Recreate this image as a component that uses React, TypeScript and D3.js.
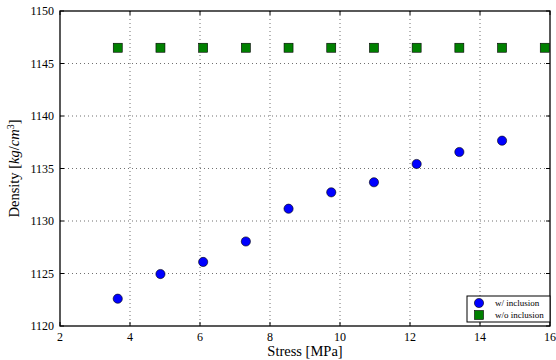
import React from "react";
import * as d3 from "d3";

const stressWith = [3.65, 4.87, 6.09, 7.31, 8.53, 9.75, 10.97, 12.19, 13.41, 14.63];
const densityWith = [1122.6, 1124.95, 1126.1, 1128.05, 1131.17, 1132.73, 1133.69, 1135.43, 1136.57, 1137.65];
const stressWithout = [3.65, 4.87, 6.09, 7.31, 8.53, 9.75, 10.97, 12.19, 13.41, 14.63, 15.85];
const densityWithout = [1146.5, 1146.5, 1146.5, 1146.5, 1146.5, 1146.5, 1146.5, 1146.5, 1146.5, 1146.5, 1146.5];
const xTicks = [2, 4, 6, 8, 10, 12, 14, 16];
const yTicks = [1120, 1125, 1130, 1135, 1140, 1145, 1150];
const legendLabels = ["w/ inclusion", "w/o inclusion"];

const W = 556;
const H = 360;
const m = { left: 60, right: 6, top: 11, bottom: 34 };
const FONT = "'Liberation Serif', 'DejaVu Serif', serif";

export default function App() {
  const x = d3.scaleLinear().domain([2, 16]).range([m.left, W - m.right]);
  const y = d3.scaleLinear().domain([1120, 1150]).range([H - m.bottom, m.top]);
  const x0 = m.left, x1 = W - m.right, y0 = H - m.bottom, y1 = m.top;
  const tick = 4;
  const sq = 9;
  const lx = 467, ly = 296, lw = 83, lh = 26;
  return (
    <svg width={W} height={H} style={{ position: "absolute", left: 0, top: 0, background: "#fff" }}>
      {/* grid */}
      {xTicks.slice(1, -1).map((t) => (
        <line key={"gx" + t} x1={x(t)} x2={x(t)} y1={y1} y2={y0} stroke="#000" strokeWidth={0.8} strokeDasharray="1,3" opacity={0.7} />
      ))}
      {yTicks.slice(1, -1).map((t) => (
        <line key={"gy" + t} x1={x0} x2={x1} y1={y(t)} y2={y(t)} stroke="#000" strokeWidth={0.8} strokeDasharray="1,3" opacity={0.7} />
      ))}
      {/* ticks */}
      {xTicks.map((t) => (
        <g key={"tx" + t}>
          <line x1={x(t)} x2={x(t)} y1={y0} y2={y0 - tick} stroke="#000" />
          <line x1={x(t)} x2={x(t)} y1={y1} y2={y1 + tick} stroke="#000" />
          <text x={x(t)} y={y0 + 15} textAnchor="middle" fontFamily={FONT} fontSize={12}>{t}</text>
        </g>
      ))}
      {yTicks.map((t) => (
        <g key={"ty" + t}>
          <line x1={x0} x2={x0 + tick} y1={y(t)} y2={y(t)} stroke="#000" />
          <line x1={x1} x2={x1 - tick} y1={y(t)} y2={y(t)} stroke="#000" />
          <text x={x0 - 6} y={y(t) + 4} textAnchor="end" fontFamily={FONT} fontSize={12}>{t}</text>
        </g>
      ))}
      {/* frame */}
      <rect x={x0} y={y1} width={x1 - x0} height={y0 - y1} fill="none" stroke="#000" strokeWidth={1.3} />
      {/* data */}
      {stressWith.map((s, i) => (
        <circle key={"c" + i} cx={x(s)} cy={y(densityWith[i])} r={4.6} fill="#0000ff" stroke="#000" strokeWidth={0.6} />
      ))}
      {stressWithout.map((s, i) => (
        <rect key={"s" + i} x={x(s) - sq / 2} y={y(densityWithout[i]) - sq / 2} width={sq} height={sq} fill="#008000" stroke="#000" strokeWidth={0.6} />
      ))}
      {/* legend */}
      <rect x={lx} y={ly} width={lw} height={lh} fill="#fff" stroke="#000" strokeWidth={1} />
      <circle cx={lx + 12} cy={ly + 7} r={4.6} fill="#0000ff" stroke="#000" strokeWidth={0.6} />
      <rect x={lx + 12 - sq / 2} y={ly + 19 - sq / 2} width={sq} height={sq} fill="#008000" stroke="#000" strokeWidth={0.6} />
      <text x={lx + 28} y={ly + 10} fontFamily={FONT} fontSize={9}>{legendLabels[0]}</text>
      <text x={lx + 28} y={ly + 22} fontFamily={FONT} fontSize={9}>{legendLabels[1]}</text>
      {/* axis labels */}
      <text x={(x0 + x1) / 2} y={H - 4} textAnchor="middle" fontFamily={FONT} fontSize={14.5}>Stress [MPa]</text>
      <text transform={`translate(19, ${(y0 + y1) / 2}) rotate(-90)`} textAnchor="middle" fontFamily={FONT} fontSize={14.5}>
        Density [<tspan fontStyle="italic">kg</tspan>/<tspan fontStyle="italic">cm</tspan><tspan dy={-5} fontSize={10}>3</tspan><tspan dy={5}>]</tspan>
      </text>
    </svg>
  );
}
